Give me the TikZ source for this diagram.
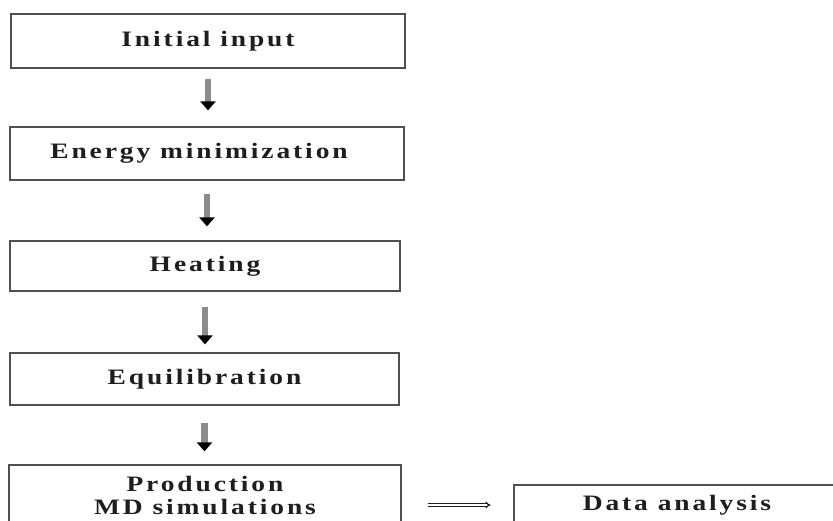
\documentclass[tikz,border=0pt]{standalone}
\usepackage{fontspec}
\setmainfont{Liberation Serif}
\newfontfamily\boxfont[LetterSpace=10.5]{Liberation Serif}
\usetikzlibrary{arrows.meta}
\definecolor{boxline}{HTML}{505050}
\definecolor{shaft}{HTML}{8C8C8C}
\definecolor{ink}{HTML}{1E1E1E}
% widened lettering for the stage labels
\newcommand{\widelabel}[1]{\scalebox{1.25}[1]{#1}}
\tikzset{
  stage/.style={draw=boxline, line width=1.2pt, inner sep=0pt, align=center,
    text=ink, font=\boxfont\bfseries\fontsize{22}{23}\selectfont},
  flow/.style={line width=6.5pt, draw=shaft,
    -{Triangle[width=15pt,length=9pt,color=black]}},
  sidearrow/.style={double=white, draw=ink, double distance=1.2pt, line width=1.1pt,
    -{Implies[length=6pt]}}
}
\begin{document}
\begin{tikzpicture}[x=1pt,y=-1pt]
  \useasboundingbox (0,0) rectangle (833,521);
  \clip (0,0) rectangle (833,521);
  \fill[white] (0,0) rectangle (833,521);

  \node[stage, minimum width=394pt, minimum height=54pt] (init) at (208,41) {\widelabel{Initial input}};
  \node[stage, minimum width=394pt, minimum height=53pt] (emin) at (207,153.5) {\widelabel{Energy minimization}\hspace*{16pt}};
  \node[stage, minimum width=390pt, minimum height=50pt] (heat) at (205,266) {\widelabel{Heating}};
  \node[stage, minimum width=389pt, minimum height=52pt] (equil) at (204.5,379) {\widelabel{Equilibration}};
  \node[stage, minimum width=392pt, minimum height=62pt] (prod) at (205,496) {\widelabel{Production}\\\widelabel{MD simulations}};
  \node[stage, minimum width=326pt, minimum height=40pt] (data) at (677,505) {\widelabel{Data analysis}};

  \draw[flow, shorten <=10pt, shorten >=16pt] (init.south) -- (init.south |- emin.north);
  \draw[flow, shorten <=13pt, shorten >=14pt] (emin.south) -- (emin.south |- heat.north);
  \draw[flow, shorten <=15pt, shorten >=8pt] (heat.south) -- (heat.south |- equil.north);
  \draw[flow, shorten <=17pt, shorten >=13pt] (equil.south) -- (equil.south |- prod.north);
  \draw[sidearrow, shorten <=26pt, shorten >=23pt] (prod.east |- data) -- (data.west);
\end{tikzpicture}
\end{document}
